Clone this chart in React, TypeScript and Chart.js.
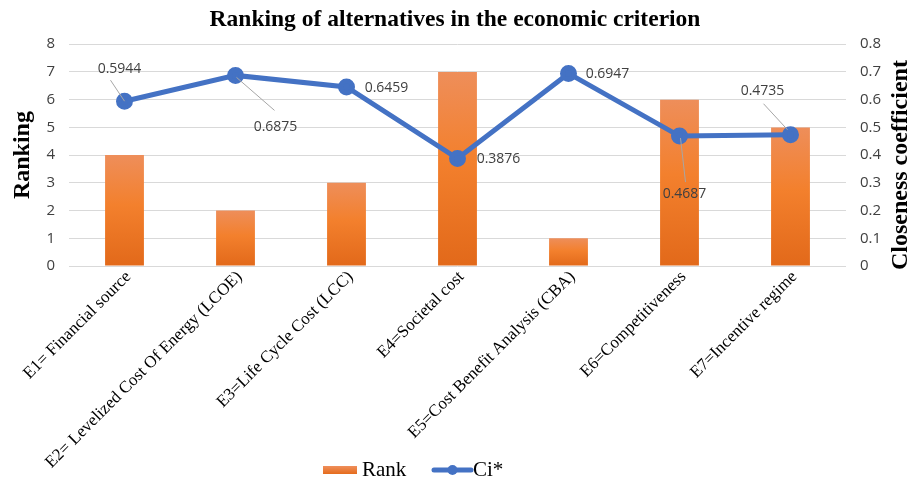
import React, { useEffect, useRef } from "react";
import { Chart, registerables } from "chart.js";

Chart.register(...registerables);

const categories = [
  "E1= Financial source",
  "E2= Levelized Cost Of Energy (LCOE)",
  "E3=Life Cycle Cost (LCC)",
  "E4=Societal cost",
  "E5=Cost Benefit Analysis (CBA)",
  "E6=Competitiveness",
  "E7=Incentive regime",
];
const rankValues = [4, 2, 3, 7, 1, 6, 5];
const ciValues = [0.5944, 0.6875, 0.6459, 0.3876, 0.6947, 0.4687, 0.4735];
const ciLabels = ["0.5944", "0.6875", "0.6459", "0.3876", "0.6947", "0.4687", "0.4735"];

// label placement (text centre offset from point, optional leader line)
const labelPlacement = [
  { dx: -5, dy: -32, leader: [-14, -21, 0, 0] },
  { dx: 40, dy: 52, leader: [1, 2, 39, 35] },
  { dx: 40, dy: 1, leader: null },
  { dx: 41, dy: 0, leader: null },
  { dx: 39, dy: 1, leader: null },
  { dx: 5, dy: 58, leader: [1, 2, 6, 46] },
  { dx: -28, dy: -44, leader: [-27, -31, -3, -5] },
];

const SERIF = "'Liberation Serif', 'Times New Roman', serif";
const SANS = "'Open Sans', 'Noto Sans', sans-serif";

const extrasPlugin = {
  id: "extras",
  afterDatasetsDraw(chart: any) {
    const ctx = chart.ctx;
    const meta = chart.getDatasetMeta(1);
    ctx.save();
    meta.data.forEach((pt: any, i: number) => {
      const p = labelPlacement[i];
      if (p.leader) {
        ctx.strokeStyle = "#A6A6A6";
        ctx.lineWidth = 1;
        ctx.beginPath();
        ctx.moveTo(pt.x + p.leader[0], pt.y + p.leader[1]);
        ctx.lineTo(pt.x + p.leader[2], pt.y + p.leader[3]);
        ctx.stroke();
      }
    });
    ctx.font = `14px ${SANS}`;
    ctx.fillStyle = "#404040";
    ctx.textAlign = "center";
    ctx.textBaseline = "middle";
    meta.data.forEach((pt: any, i: number) => {
      const p = labelPlacement[i];
      ctx.fillText(ciLabels[i], pt.x + p.dx, pt.y + p.dy);
    });
    ctx.restore();
  },
  afterDraw(chart: any) {
    const ctx = chart.ctx;
    const area = chart.chartArea;
    ctx.save();
    // right axis title, reading bottom to top
    ctx.translate(area.right + 55, (area.top + area.bottom) / 2 + 10);
    ctx.rotate(-Math.PI / 2);
    ctx.font = `bold 24px ${SERIF}`;
    ctx.fillStyle = "#000";
    ctx.textAlign = "center";
    ctx.textBaseline = "middle";
    ctx.fillText("Closeness coefficient", 0, 0);
    ctx.restore();

    // legend
    const ds = chart.data.datasets;
    const ly = 470;
    ctx.save();
    ctx.font = `21px ${SERIF}`;
    ctx.textBaseline = "middle";
    const g = ctx.createLinearGradient(0, ly - 4, 0, ly + 4);
    g.addColorStop(0, "#EF8F5C");
    g.addColorStop(1, "#E56C1C");
    ctx.fillStyle = g;
    ctx.fillRect(323, ly - 4, 34, 8);
    ctx.fillStyle = "#000";
    ctx.textAlign = "left";
    ctx.fillText(ds[0].label, 362, ly);
    ctx.strokeStyle = "#4472C4";
    ctx.lineWidth = 5;
    ctx.lineCap = "round";
    ctx.beginPath();
    ctx.moveTo(434, ly);
    ctx.lineTo(471, ly);
    ctx.stroke();
    ctx.fillStyle = "#4472C4";
    ctx.beginPath();
    ctx.arc(452.5, ly, 5, 0, Math.PI * 2);
    ctx.fill();
    ctx.fillStyle = "#000";
    ctx.fillText(ds[1].label, 473, ly);
    ctx.restore();
  },
};

function barGradient(c: any) {
  const chart = c.chart;
  const y = chart.scales && chart.scales.y;
  if (!chart.chartArea || !y || c.raw == null) return "#F07D2E";
  const top = y.getPixelForValue(c.raw);
  const bottom = y.getPixelForValue(0);
  const g = chart.ctx.createLinearGradient(0, top, 0, bottom);
  g.addColorStop(0, "#EE8E5A");
  g.addColorStop(0.45, "#F3802D");
  g.addColorStop(1, "#E2691A");
  return g;
}

export default function App() {
  const ref = useRef<HTMLCanvasElement>(null);
  useEffect(() => {
    document.body.style.margin = "0";
    const chart = new Chart(ref.current!, {
      type: "bar",
      data: {
        labels: categories,
        datasets: [
          {
            type: "bar",
            label: "Rank",
            data: rankValues,
            yAxisID: "y",
            backgroundColor: barGradient as any,
            barPercentage: 0.35,
            categoryPercentage: 1,
            order: 2,
          },
          {
            type: "line",
            label: "Ci*",
            data: ciValues,
            yAxisID: "y1",
            borderColor: "#4472C4",
            backgroundColor: "#4472C4",
            borderWidth: 5,
            pointRadius: 6,
            pointBackgroundColor: "#4472C4",
            pointBorderColor: "#4472C4",
            tension: 0,
            order: 1,
          } as any,
        ],
      },
      options: {
        animation: false,
        responsive: false,
        devicePixelRatio: 1,
        layout: { padding: 0 },
        plugins: {
          legend: { display: false },
          tooltip: { enabled: false },
          title: {
            display: true,
            text: "Ranking of alternatives in the economic criterion",
            color: "#000",
            font: { family: SERIF, size: 23.5, weight: "bold" },
            padding: { top: 6, bottom: 10 },
          },
        },
        scales: {
          x: {
            grid: { display: false, drawTicks: false },
            border: { display: false },
            ticks: {
              autoSkip: false,
              maxRotation: 45,
              minRotation: 45,
              padding: 1,
              labelOffset: 4,
              color: "#000",
              font: { family: SERIF, size: 17 },
            },
            afterFit: (s: any) => {
              s.height = 218;
            },
          },
          y: {
            position: "left",
            min: 0,
            max: 8,
            ticks: {
              stepSize: 1,
              padding: 14,
              color: "#404040",
              font: { family: SANS, size: 15 },
            },
            grid: { color: "#D9D9D9", lineWidth: 1, drawTicks: false },
            border: { display: false },
            title: {
              display: true,
              text: "Ranking",
              color: "#000",
              font: { family: SERIF, size: 24, weight: "bold" },
              padding: { top: 8, bottom: 0 },
            },
            afterFit: (s: any) => {
              s.width = 69;
            },
          },
          y1: {
            position: "right",
            min: 0,
            max: 0.8,
            ticks: {
              stepSize: 0.1,
              padding: 14,
              color: "#404040",
              font: { family: SANS, size: 15 },
            },
            grid: { display: false, drawTicks: false },
            border: { display: false },
            afterFit: (s: any) => {
              s.width = 64;
            },
          },
        },
      },
      plugins: [extrasPlugin],
    });
    return () => chart.destroy();
  }, []);
  return (
    <div style={{ width: 910, height: 484, background: "#fff" }}>
      <canvas ref={ref} width={910} height={484} style={{ display: "block" }} />
    </div>
  );
}
